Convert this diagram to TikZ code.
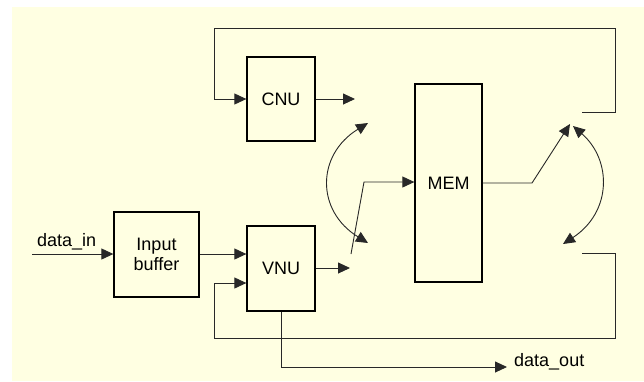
\documentclass[tikz,border=0pt]{standalone}
\usepackage{fontspec}
\setmainfont{Liberation Sans}
\usetikzlibrary{arrows.meta}
\definecolor{bgyellow}{RGB}{255,255,226}
\definecolor{linegray}{RGB}{40,40,40}
\begin{document}
\begin{tikzpicture}[x=1pt,y=-1pt,
  blk/.style={draw=black,line width=1.3pt,fill=bgyellow,inner sep=0pt,align=center,
    font=\fontsize{18}{20.5}\selectfont},
  wire/.style={draw=linegray,line width=0.9pt},
  arr/.style={wire,-{Triangle[length=12pt,width=11pt]}},
  darr/.style={wire,{Triangle[length=12pt,width=11pt]}-{Triangle[length=12pt,width=11pt]}},
  lbl/.style={inner sep=0pt,font=\fontsize{18}{20.5}\selectfont}]
\useasboundingbox (0,0) rectangle (644,381);
\fill[white] (0,0) rectangle (644,381);
\fill[bgyellow] (12,7) rectangle (644,381);
% blocks
\node[blk,minimum width=68pt,minimum height=84pt] (cnu) at (281,99) {CNU};
\node[blk,minimum width=68pt,minimum height=85pt] (vnu) at (281,268.5) {VNU};
\node[blk,minimum width=85pt,minimum height=85pt] (buf) at (156.5,254.5) {Input\\buffer};
\node[blk,minimum width=67pt,minimum height=198pt] (mem) at (448.5,183) {MEM};
% coordinates
\coordinate (tlS) at (582,112);
\coordinate (tlA) at (615,112);
\coordinate (tlB) at (615,28);
\coordinate (tlC) at (214,28);
\coordinate (tlD) at (214,99);
\coordinate (blS) at (582,253);
\coordinate (blA) at (615,253);
\coordinate (blB) at (615,338);
\coordinate (blC) at (214,338);
\coordinate (blD) at (214,283);
\coordinate (cnuO) at (355,99);
\coordinate (vnuO) at (350,268);
\coordinate (din) at (32,254);
\coordinate (doA) at (281,367);
\coordinate (doB) at (507,367);
\coordinate (swA) at (351,254);
\coordinate (swB) at (364,182);
\coordinate (moA) at (532,183);
\coordinate (moB) at (570,124);
\coordinate (laT) at (368,123);
\coordinate (laB) at (368,243);
\coordinate (raT) at (573,126);
\coordinate (raB) at (563,244);
% top loop
\draw[arr] (tlS) -- (tlA) -- (tlB) -- (tlC) -- (tlD) -- (cnu.west |- tlD);
\draw[arr] (cnu.east |- cnuO) -- (cnuO);
% input
\draw[arr] (din) -- (buf.west |- din);
\node[lbl,anchor=base west] (dinl) at (37,246) {data\_in};
\draw[arr] (buf.east |- din) -- (vnu.west |- din);
% bottom loop
\draw[arr] (blS) -- (blA) -- (blB) -- (blC) -- (blD) -- (vnu.west |- blD);
\draw[arr] (vnu.east |- vnuO) -- (vnuO);
% data out
\draw[arr] (vnu.south -| doA) -- (doA) -- (doB);
\node[lbl,anchor=base west] (doutl) at (514,366) {data\_out};
% switch into MEM
\draw[arr] (swA) -- (swB) -- (mem.west |- swB);
% MEM out
\draw[arr] (mem.east |- moA) -- (moA) -- (moB);
% arcs
\draw[darr] (laT) .. controls (316,155) and (316,211) .. (laB);
\draw[darr] (raT) .. controls (612,160) and (612,212) .. (raB);
\end{tikzpicture}
\end{document}
